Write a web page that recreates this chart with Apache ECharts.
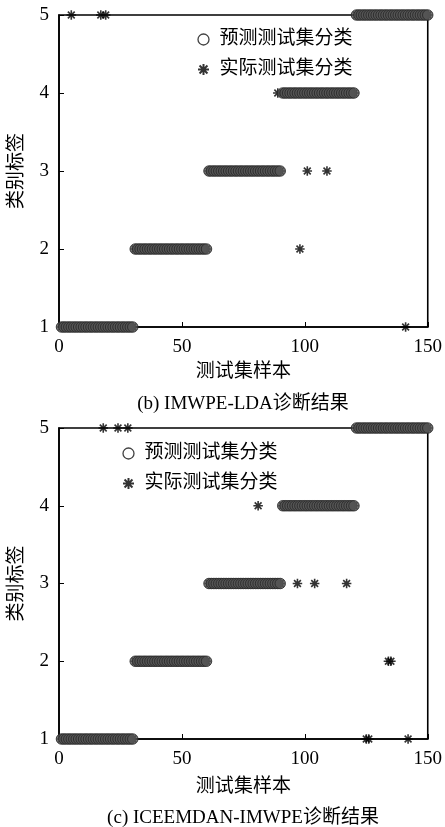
<!DOCTYPE html>
<html>
<head>
<meta charset="utf-8">
<script src="https://cdn.jsdelivr.net/npm/echarts@6/dist/echarts.min.js"></script>
<style>
html,body{margin:0;padding:0;background:#fff;}
#chart{width:445px;height:827px;}
</style>
</head>
<body>
<div id="chart"></div>
<script>
// ---- data ----
var xTicks = [0, 50, 100, 150];
var yTicks = [1, 2, 3, 4, 5];
var legendNames = ['预测测试集分类', '实际测试集分类'];
var captions = ['(b) IMWPE-LDA诊断结果', '(c) ICEEMDAN-IMWPE诊断结果'];
var xName = '测试集样本';
var yName = '类别标签';

// (b) predicted labels, samples 1..150
var predB = [
  1,1,1,1,1,1,1,1,1,1,1,1,1,1,1,1,1,1,1,1,1,1,1,1,1,1,1,1,1,1,
  2,2,2,2,2,2,2,2,2,2,2,2,2,2,2,2,2,2,2,2,2,2,2,2,2,2,2,2,2,2,
  3,3,3,3,3,3,3,3,3,3,3,3,3,3,3,3,3,3,3,3,3,3,3,3,3,3,3,3,3,3,
  4,4,4,4,4,4,4,4,4,4,4,4,4,4,4,4,4,4,4,4,4,4,4,4,4,4,4,4,4,4,
  5,5,5,5,5,5,5,5,5,5,5,5,5,5,5,5,5,5,5,5,5,5,5,5,5,5,5,5,5,5
];
// (b) actual labels
var actB = [
  1,1,1,1,5,1,1,1,1,1,1,1,1,1,1,1,5,1,5,1,1,1,1,1,1,1,1,1,1,1,
  2,2,2,2,2,2,2,2,2,2,2,2,2,2,2,2,2,2,2,2,2,2,2,2,2,2,2,2,2,2,
  3,3,3,3,3,3,3,3,3,3,3,3,3,3,3,3,3,3,3,3,3,3,3,3,3,3,3,3,4,3,
  4,4,4,4,4,4,4,2,4,4,3,4,4,4,4,4,4,4,3,4,4,4,4,4,4,4,4,4,4,4,
  5,5,5,5,5,5,5,5,5,5,5,5,5,5,5,5,5,5,5,5,1,5,5,5,5,5,5,5,5,5
];
// (c) predicted labels
var predC = [
  1,1,1,1,1,1,1,1,1,1,1,1,1,1,1,1,1,1,1,1,1,1,1,1,1,1,1,1,1,1,
  2,2,2,2,2,2,2,2,2,2,2,2,2,2,2,2,2,2,2,2,2,2,2,2,2,2,2,2,2,2,
  3,3,3,3,3,3,3,3,3,3,3,3,3,3,3,3,3,3,3,3,3,3,3,3,3,3,3,3,3,3,
  4,4,4,4,4,4,4,4,4,4,4,4,4,4,4,4,4,4,4,4,4,4,4,4,4,4,4,4,4,4,
  5,5,5,5,5,5,5,5,5,5,5,5,5,5,5,5,5,5,5,5,5,5,5,5,5,5,5,5,5,5
];
// (c) actual labels
var actC = [
  1,1,1,1,1,1,1,1,1,1,1,1,1,1,1,1,1,5,1,1,1,1,1,5,1,1,1,5,1,1,
  2,2,2,2,2,2,2,2,2,2,2,2,2,2,2,2,2,2,2,2,2,2,2,2,2,2,2,2,2,2,
  3,3,3,3,3,3,3,3,3,3,3,3,3,3,3,3,3,3,3,3,4,3,3,3,3,3,3,3,3,3,
  4,4,4,4,4,4,3,4,4,4,4,4,4,3,4,4,4,4,4,4,4,4,4,4,4,4,3,4,4,4,
  5,5,5,5,1,1,5,5,5,5,5,5,5,2,2,5,5,5,5,5,5,1,5,5,5,5,5,5,5,5
];

function pairs(arr) {
  return arr.map(function (v, i) { return [i + 1, v]; });
}

var SERIF = "'Liberation Serif','Noto Sans CJK SC',serif";
var STAR = 'path://M0,-1L0,1M-1,0L1,0M-0.72,-0.72L0.72,0.72M-0.72,0.72L0.72,-0.72';
var FS = 19;

var grids = [
  {left: 57, top: 15, width: 372, height: 312},
  {left: 57, top: 428, width: 372, height: 311}
];
var xNameGaps = [36, 39];
var captionY = [404, 818];

function xAx(g) {
  return {
    gridIndex: g, type: 'value', min: 0, max: 150, interval: 50,
    name: xName, nameLocation: 'middle', nameGap: xNameGaps[g],
    nameTextStyle: {fontFamily: SERIF, fontSize: FS, color: '#000'},
    axisLine: {lineStyle: {color: '#000', width: 1.6}},
    axisTick: {inside: true, length: 5, lineStyle: {color: '#000', width: 1}},
    axisLabel: {fontFamily: SERIF, fontSize: FS, color: '#000', margin: 11},
    splitLine: {show: false}
  };
}
function yAx(g) {
  return {
    gridIndex: g, type: 'value', min: 1, max: 5, interval: 1,
    name: yName, nameLocation: 'middle', nameGap: 32, nameRotate: 90,
    nameTextStyle: {fontFamily: SERIF, fontSize: FS, color: '#000'},
    axisLine: {lineStyle: {color: '#000', width: 1.6}},
    axisTick: {inside: true, length: 5, lineStyle: {color: '#000', width: 1}},
    axisLabel: {fontFamily: SERIF, fontSize: FS, color: '#000', margin: 10},
    splitLine: {show: false}
  };
}
function starSeries(g, arr) {
  return {
    name: legendNames[1], type: 'scatter', xAxisIndex: g, yAxisIndex: g,
    data: pairs(arr), symbol: STAR, symbolSize: 9.5, clip: false,
    itemStyle: {color: 'rgba(0,0,0,0)', borderColor: '#000', borderWidth: 1.6},
    emphasis: {disabled: true}, z: 2
  };
}
function circSeries(g, arr) {
  return {
    name: legendNames[0], type: 'scatter', xAxisIndex: g, yAxisIndex: g,
    data: pairs(arr), symbol: 'circle', symbolSize: 10.5, clip: false,
    itemStyle: {color: '#555', borderColor: '#262626', borderWidth: 1},
    emphasis: {disabled: true}, z: 3
  };
}
function legendData() {
  return [
    {name: legendNames[0], itemStyle: {color: '#fff', borderColor: '#111', borderWidth: 1.3}},
    {name: legendNames[1]}
  ];
}

var chart = echarts.init(document.getElementById('chart'), null, {renderer: 'canvas'});
chart.setOption({
  animation: false,
  backgroundColor: '#fff',
  grid: grids.map(function (g) {
    return Object.assign({show: true, borderColor: '#000', borderWidth: 1.6, backgroundColor: 'transparent'}, g);
  }),
  xAxis: [xAx(0), xAx(1)],
  yAxis: [yAx(0), yAx(1)],
  graphic: captions.map(function (c, i) {
    return {
      type: 'text', x: grids[i].left + grids[i].width / 2, y: captionY[i],
      style: {text: c, fill: '#000', font: 'normal ' + FS + 'px ' + SERIF,
              textAlign: 'center', textVerticalAlign: 'middle'}
    };
  }),
  legend: [
    {data: legendData(), orient: 'vertical', left: 192, top: 25, itemWidth: 22, itemHeight: 11, itemGap: 11,
     textStyle: {fontFamily: SERIF, fontSize: FS, color: '#000'}},
    {data: legendData(), orient: 'vertical', left: 117, top: 439, itemWidth: 22, itemHeight: 11, itemGap: 11,
     textStyle: {fontFamily: SERIF, fontSize: FS, color: '#000'}}
  ],
  series: [
    starSeries(0, actB), circSeries(0, predB),
    starSeries(1, actC), circSeries(1, predC)
  ]
});
</script>
</body>
</html>
